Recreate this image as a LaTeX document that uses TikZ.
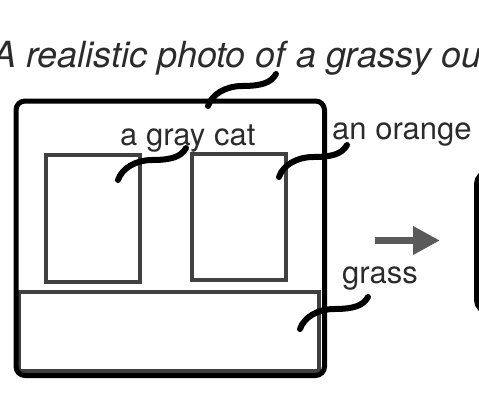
\documentclass[tikz,border=0pt]{standalone}
\usepackage{fontspec}
\setmainfont{TeX Gyre Heros}
\usepackage{tikz}
\usetikzlibrary{arrows.meta}
\definecolor{boxgray}{HTML}{404040}
\definecolor{arrowgray}{HTML}{5A5A5A}
\definecolor{textgray}{HTML}{2B2B2B}
\tikzset{
    squig/.style={line width=6pt, line cap=round, black},
    label/.style={anchor=base west, inner sep=0pt, font=\fontsize{31}{37}\selectfont, text=textgray}
}

\begin{document}
\begin{tikzpicture}[x=1pt, y=-1pt]
            \useasboundingbox (0,0) rectangle (479,400);

            \node[anchor=base west, inner sep=0pt, font=\fontsize{36}{43}\selectfont\itshape, text=textgray] (title) at (-8,67) {A realistic photo of a grassy ou};

            \draw[boxgray, line width=4pt] (19,292) rectangle (319,371);
            \draw[boxgray, line width=4pt] (45.5,155) rectangle (140,281.5);
            \draw[boxgray, line width=4pt] (191.5,153.5) rectangle (286,280);
            \draw[black, line width=5pt, rounded corners=9pt] (16,101) rectangle (324.5,375.5);

            \node[label] (catlabel)    at (120,145) {a gray cat};
            \node[label] (orangelabel) at (332,139) {an orange};
            \node[label] (grasslabel)  at (342,283) {grass};

            \coordinate (titletip)  at (276,74);
            \coordinate (cattip)    at (186,148);
            \coordinate (orangetip) at (347,145);
            \coordinate (grasstip)  at (368,297);

            \draw[squig] (titletip) .. controls +(-5,9) and +(19,0) .. ++(-34,12) .. controls +(-16,0) and +(4,-12) .. ++(-34,20);
            \draw[squig] (cattip) .. controls +(-5,9) and +(19,0) .. ++(-34,12) .. controls +(-16,0) and +(4,-12) .. ++(-34,20);
            \draw[squig] (orangetip) .. controls +(-5,9) and +(19,0) .. ++(-34,12) .. controls +(-16,0) and +(4,-12) .. ++(-34,20);
            \draw[squig] (grasstip) .. controls +(-5,9) and +(19,0) .. ++(-34,12) .. controls +(-16,0) and +(4,-12) .. ++(-34,20);

            \coordinate (arrowstart) at (375,240.5);
            \coordinate (arrowend)   at (440,240.5);
            \draw[arrowgray, line width=7pt, -{Triangle[length=27pt 0 0, width=27pt 0 0]}] (arrowstart) -- (arrowend);

            \draw[black, line width=5pt, rounded corners=12pt] (476.5,172) rectangle (600,312);
            \end{tikzpicture}
\end{document}
